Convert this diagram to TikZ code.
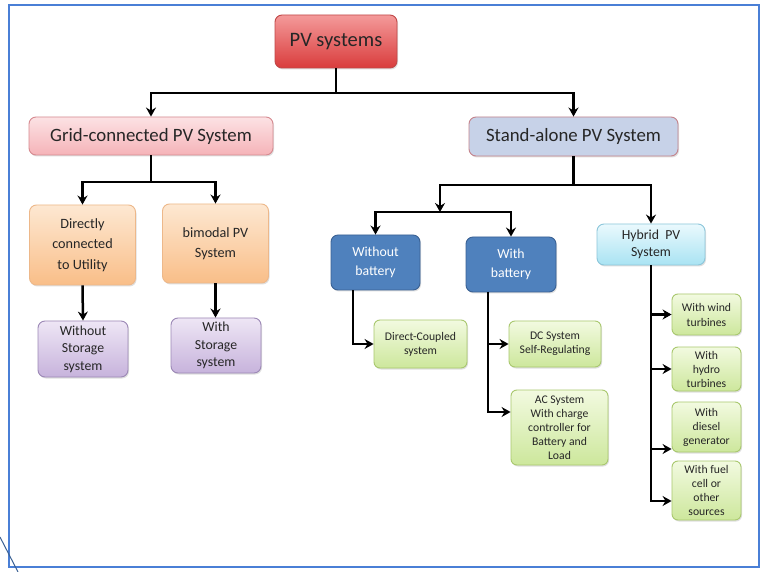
\documentclass[tikz,border=0pt]{standalone}
\usepackage{fontspec}
\setmainfont{Carlito}
\usetikzlibrary{arrows.meta,shadows,calc}
\newcommand{\myfs}[2]{\fontsize{#1}{#2}\selectfont}
\definecolor{txt}{HTML}{262626}
\definecolor{frameblue}{HTML}{4A7FD6}
\definecolor{pvtop}{HTML}{F49A9A}
\definecolor{pvbot}{HTML}{D93C3C}
\definecolor{pvedge}{HTML}{C04848}
\definecolor{gridtop}{HTML}{FCE2E4}
\definecolor{gridbot}{HTML}{F5B3B8}
\definecolor{gridedge}{HTML}{D68A90}
\definecolor{safill}{HTML}{C7D2E8}
\definecolor{saedge}{HTML}{C4838C}
\definecolor{ortop}{HTML}{FDE8D2}
\definecolor{orbot}{HTML}{F9BE88}
\definecolor{oredge}{HTML}{EDB88A}
\definecolor{putop}{HTML}{EEE6F5}
\definecolor{pubot}{HTML}{C7B3DC}
\definecolor{puedge}{HTML}{9C88B6}
\definecolor{bluefill}{HTML}{4F81BD}
\definecolor{blueedge}{HTML}{3A6194}
\definecolor{cytop}{HTML}{EAF9FD}
\definecolor{cybot}{HTML}{A9E3F3}
\definecolor{cyedge}{HTML}{8CC6DA}
\definecolor{grtop}{HTML}{F2FAE0}
\definecolor{grbot}{HTML}{CDE79C}
\definecolor{gredge}{HTML}{A9C86E}
\tikzset{
  boxbase/.style={rounded corners=7pt, align=center, text=txt, inner sep=1pt, line width=0.9pt,
     drop shadow={opacity=0.25, shadow xshift=1pt, shadow yshift=-1.5pt}},
  pvbox/.style={boxbase, draw=pvedge, top color=pvtop, bottom color=pvbot, minimum width=122pt, minimum height=53pt, font=\myfs{20.5}{24}},
  gridbox/.style={boxbase, draw=gridedge, top color=gridtop, bottom color=gridbot, minimum width=244pt, minimum height=38pt, font=\myfs{18.8}{22}},
  sabox/.style={boxbase, draw=saedge, fill=safill, minimum width=209pt, minimum height=39pt, font=\myfs{18.8}{22}},
  orbox/.style={boxbase, draw=oredge, top color=ortop, bottom color=orbot, minimum width=106pt, minimum height=80pt, font=\myfs{14.2}{20.5}},
  pubox/.style={boxbase, draw=puedge, top color=putop, bottom color=pubot, minimum width=90pt, minimum height=56pt, font=\myfs{13.8}{17.5}},
  bluebox/.style={boxbase, draw=blueedge, fill=bluefill, text=white, minimum width=89pt, minimum height=55pt, font=\myfs{13.8}{18.5}},
  cybox/.style={boxbase, draw=cyedge, top color=cytop, bottom color=cybot, minimum width=108pt, minimum height=41pt, font=\myfs{13.8}{16.5}},
  grbox/.style={boxbase, rounded corners=6pt, draw=gredge, top color=grtop, bottom color=grbot, font=\myfs{11.7}{14}},
  conn/.style={line width=2.5pt, black},
  arr/.style={conn, -{Stealth[length=9pt,width=10pt,inset=3pt]}},
}
\begin{document}
\begin{tikzpicture}[x=1pt,y=-1pt]
\fill[white] (0,0) rectangle (761,572);
\useasboundingbox (0,0) rectangle (761,572);
\draw[frameblue, line width=1.1pt] (9,5) rectangle (759,567);
\draw[blueedge, line width=1pt] (0,537) -- (18,572);

% nodes
\node[pvbox] (pv) at (336,41.5) {PV systems};
\node[gridbox] (grid) at (151,136) {Grid-connected PV System};
\node[sabox] (sa) at (573.5,136.5) {Stand-alone PV System};
\node[orbox] (direct) at (82.5,245) {Directly\\connected\\to Utility};
\node[orbox, minimum height=79pt] (bimodal) at (215.5,243.5) {bimodal PV\\System};
\node[pubox] (wos) at (83,349) {Without\\Storage\\system};
\node[pubox, minimum height=55pt] (ws) at (216,345.5) {With\\Storage\\system};
\node[bluebox] (wob) at (375.5,262.5) {Without\\battery};
\node[bluebox, minimum width=90pt] (wb) at (511,264.5) {With\\battery};
\node[cybox] (hyb) at (651,244.5) {Hybrid~~PV\\System};
\node[grbox, minimum width=93pt, minimum height=48pt] (dc) at (420.5,344) {Direct-Coupled\\system};
\node[grbox, minimum width=92pt, minimum height=46pt] (dcs) at (555,344) {DC System\\Self-Regulating};
\node[grbox, minimum width=97pt, minimum height=75pt] (ac) at (559.5,427.5) {AC System\\With charge\\controller for\\Battery and\\Load};
\node[grbox, minimum width=69pt, minimum height=41pt, font=\myfs{11.7}{15}] (wind) at (706.5,314.5) {With wind\\turbines};
\node[grbox, minimum width=69pt, minimum height=44pt] (hydro) at (706.5,369) {With\\hydro\\turbines};
\node[grbox, minimum width=69pt, minimum height=50pt] (diesel) at (706.5,427) {With\\diesel\\generator};
\node[grbox, minimum width=69pt, minimum height=59pt] (fuel) at (706.5,490.5) {With fuel\\cell or\\other\\sources};

% junction levels
\coordinate (y1) at (0,93);
\coordinate (y2) at (0,182);
\coordinate (y3) at (0,185);
\coordinate (j4) at (440,212);

% connectors
\draw[arr] (pv.south) -- (pv.south |- y1) -| (grid.north);
\draw[arr] (pv.south) -- (pv.south |- y1) -| (sa.north);
\draw[arr] (grid.south) -- (grid.south |- y2) -| (direct.north);
\draw[arr] (grid.south) -- (grid.south |- y2) -| (bimodal.north);
\draw[arr] (direct.south) -- (wos.north);
\draw[arr] (bimodal.south) -- (bimodal.south |- ws.north);
\draw[arr] (sa.south) -- (sa.south |- y3) -| (hyb.north);
\draw[arr] (sa.south) -- (sa.south |- y3) -| (j4);
\draw[arr] (j4) -| (wob.north);
\draw[arr] (j4) -| (wb.north);
\draw[arr] ([xshift=-22.5pt]wob.south) |- (dc.west);
\draw[arr] ([xshift=-23pt]wb.south) |- (dcs.west);
\draw[arr] ([xshift=-23pt]wb.south) |- ([yshift=15.5pt]ac.west);
\draw[arr] (hyb.south) |- (wind.west);
\draw[arr] (hyb.south) |- (hydro.west);
\draw[arr] (hyb.south) |- ([yshift=-22pt]diesel.west);
\draw[arr] (hyb.south) |- ([yshift=-10.5pt]fuel.west);
\end{tikzpicture}
\end{document}
